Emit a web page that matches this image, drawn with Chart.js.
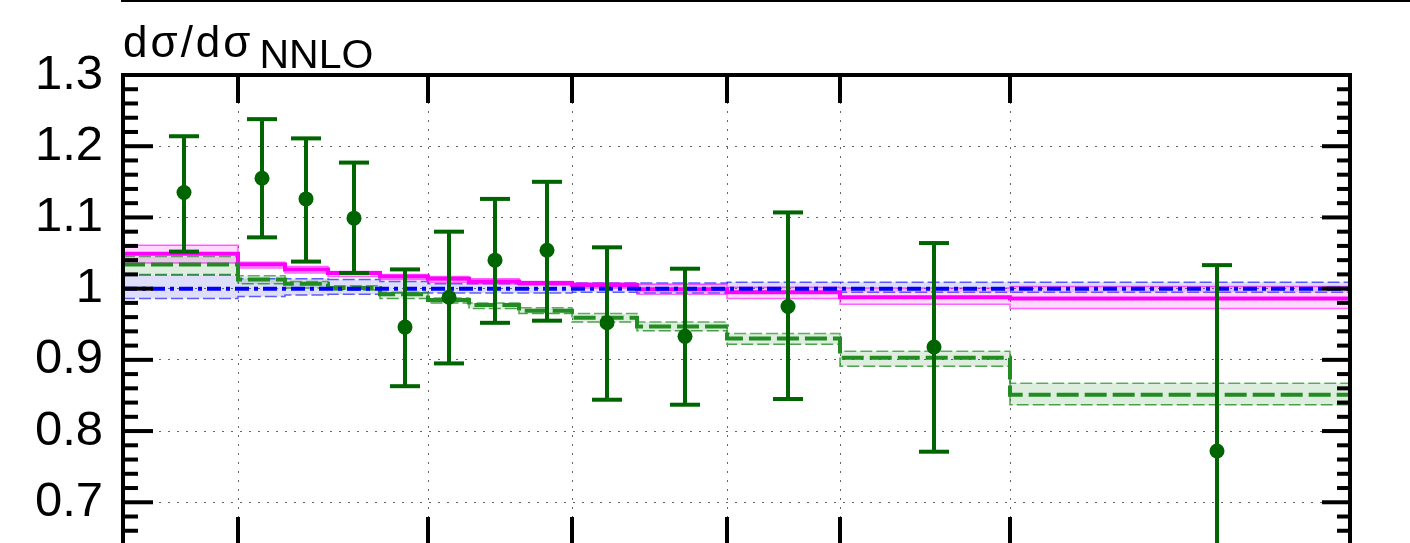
<!DOCTYPE html>
<html><head><meta charset="utf-8">
<script src="https://cdn.jsdelivr.net/npm/chart.js@4.4.1/dist/chart.umd.min.js"></script>
<style>html,body{margin:0;padding:0;background:#fff;overflow:hidden}#wrap{width:1410px;height:543px;overflow:hidden;position:relative}</style>
</head><body><div id="wrap"><canvas id="c" width="1410" height="560"></canvas></div>
<script>
// ---- data (x in arbitrary axis units; axis labels are outside the visible area) ----
const binEdges = [0, 11.5, 16.2, 20.5, 25.7, 30.5, 34.6, 39.6, 44.9, 51.4, 60.4, 71.7, 88.7, 122.7];
const xMajorTicks = [11.5, 30.5, 44.9, 60.4, 71.7, 88.7];
const yTickLabels = [0.7, 0.8, 0.9, 1.0, 1.1, 1.2, 1.3];

const magLine = [1.049, 1.034, 1.027, 1.022, 1.017, 1.014, 1.010, 1.008, 1.005, 0.999, 0.995, 0.988, 0.986];
const magUp   = [1.061, 1.037, 1.031, 1.024, 1.020, 1.017, 1.014, 1.010, 1.008, 1.006, 1.002, 1.001, 1.003];
const magLo   = [1.036, 1.029, 1.022, 1.017, 1.013, 1.009, 1.007, 1.005, 1.001, 0.992, 0.986, 0.978, 0.972];

const greenLine = [1.034, 1.013, 1.007, 1.001, 0.992, 0.984, 0.977, 0.969, 0.959, 0.947, 0.930, 0.903, 0.851];
const greenUp   = [1.045, 1.018, 1.010, 1.004, 0.995, 0.987, 0.980, 0.973, 0.965, 0.953, 0.937, 0.912, 0.867];
const greenLo   = [1.020, 1.007, 1.001, 0.998, 0.986, 0.980, 0.972, 0.965, 0.953, 0.941, 0.922, 0.891, 0.837];

const blueLine = [1, 1, 1, 1, 1, 1, 1, 1, 1, 1, 1, 1, 1];
const blueUp   = [1.019, 1.014, 1.014, 1.013, 1.010, 1.007, 1.007, 1.006, 1.008, 1.008, 1.009, 1.009, 1.009];
const blueLo   = [0.986, 0.989, 0.991, 0.992, 0.994, 0.994, 0.994, 0.994, 0.995, 0.994, 0.995, 0.995, 0.995];

const dataX  = [6.1, 13.9, 18.3, 23.1, 28.2, 32.6, 37.2, 42.4, 48.4, 56.2, 66.5, 81.1, 109.4];
const dataY  = [1.135, 1.155, 1.126, 1.099, 0.946, 0.988, 1.040, 1.054, 0.952, 0.933, 0.975, 0.918, 0.772];
const dataHi = [1.214, 1.238, 1.211, 1.177, 1.027, 1.080, 1.126, 1.150, 1.058, 1.028, 1.107, 1.064, 1.033];
const dataLo = [1.052, 1.072, 1.038, 1.022, 0.863, 0.895, 0.952, 0.955, 0.844, 0.837, 0.845, 0.771, 0.511];

// ---- helpers ----
function steps(vals) {
  const pts = [];
  vals.forEach((v, i) => { pts.push({x: binEdges[i], y: v}); pts.push({x: binEdges[i + 1], y: v}); });
  return pts;
}
const FONT = '"Liberation Sans", Arial, Helvetica, sans-serif';
const DATA_COLOR = '#006400';

const lineBase = {type: 'line', pointRadius: 0, tension: 0, fill: false};

const datasets = [
  Object.assign({}, lineBase, {data: steps(blueUp), borderColor: 'rgba(40,40,255,0.75)', borderWidth: 1.5, borderDash: [12, 4], backgroundColor: 'rgba(70,70,230,0.18)', fill: '+1', order: 10}),
  Object.assign({}, lineBase, {data: steps(blueLo), borderColor: 'rgba(40,40,255,0.75)', borderWidth: 1.5, borderDash: [12, 4], order: 10}),
  Object.assign({}, lineBase, {data: steps(greenUp), borderColor: 'rgba(34,139,34,0.7)', borderWidth: 1.5, borderDash: [12, 4], backgroundColor: 'rgba(34,139,34,0.15)', fill: '+1', order: 9}),
  Object.assign({}, lineBase, {data: steps(greenLo), borderColor: 'rgba(34,139,34,0.8)', borderWidth: 1.5, borderDash: [12, 4], order: 9}),
  Object.assign({}, lineBase, {data: steps(magUp), borderColor: 'rgba(255,0,255,0.6)', borderWidth: 1.5, backgroundColor: 'rgba(255,0,255,0.15)', fill: '+1', order: 8}),
  Object.assign({}, lineBase, {data: steps(magLo), borderColor: 'rgba(255,0,255,0.6)', borderWidth: 1.5, order: 8}),
  Object.assign({}, lineBase, {data: steps(magLine), borderColor: '#ff00ff', borderWidth: 4, order: 3}),
  Object.assign({}, lineBase, {data: steps(greenLine), borderColor: '#228b22', borderWidth: 4, borderDash: [22, 6], order: 2}),
  Object.assign({}, lineBase, {data: steps(blueLine), borderColor: '#0000ff', borderWidth: 4, borderDash: [14, 5, 4, 5], order: 1}),
  {type: 'line', showLine: false, data: dataX.map((x, i) => ({x: x, y: dataY[i]})), pointRadius: 7.5, pointBackgroundColor: DATA_COLOR, pointBorderWidth: 0, order: 0}
];

const rootFrame = {
  id: 'rootFrame',
  afterDatasetsDraw(chart) {
    const {ctx, scales: {x, y}} = chart;
    ctx.save();
    ctx.fillStyle = DATA_COLOR;
    dataX.forEach((xv, i) => {
      const px = x.getPixelForValue(xv);
      const ph = y.getPixelForValue(dataHi[i]);
      const pl = y.getPixelForValue(dataLo[i]);
      ctx.fillRect(px - 2, ph, 4, pl - ph);
      ctx.fillRect(px - 15, ph - 2, 30, 4);
      ctx.fillRect(px - 15, pl - 2, 30, 4);
    });
    ctx.restore();
  },
  afterDraw(chart) {
    const {ctx, chartArea: a, scales: {x, y}} = chart;
    ctx.save();
    ctx.fillStyle = '#000';
    // frame
    ctx.fillRect(a.left - 2, a.top - 2, a.right - a.left + 4, 4);
    ctx.fillRect(a.left - 2, a.top - 2, 4, a.bottom - a.top + 4);
    ctx.fillRect(a.right - 2, a.top - 2, 4, a.bottom - a.top + 4);
    ctx.fillRect(a.left - 2, a.bottom - 2, a.right - a.left + 4, 4);
    // y ticks
    const k0 = Math.ceil(y.min / 0.02 - 1e-6), k1 = Math.floor(y.max / 0.02 + 1e-6);
    for (let k = k0; k <= k1; k++) {
      const py = y.getPixelForValue(k * 0.02);
      const major = k % 5 === 0;
      ctx.fillRect(a.left, py - 2, major ? 30 : 15, 4);
      ctx.fillRect(a.right - (major ? 28 : 13), py - 2, major ? 28 : 13, 4);
    }
    // x ticks
    xMajorTicks.forEach(v => {
      const px = x.getPixelForValue(v);
      ctx.fillRect(px - 2, a.top, 4, 28);
      ctx.fillRect(px - 2, a.bottom - 28, 4, 28);
    });
    // upper pad frame line
    ctx.fillRect(a.left - 2, 0, 1410 - a.left + 2, 2);
    // y title
    ctx.font = '44px ' + FONT;
    ctx.textBaseline = 'alphabetic';
    ctx.textAlign = 'left';
    ctx.letterSpacing = '3px';
    const t = 'dσ/dσ';
    ctx.fillText(t, 123, 57);
    const w = ctx.measureText(t).width;
    ctx.letterSpacing = '0px';
    ctx.font = '41px ' + FONT;
    ctx.fillText('NNLO', 123 + w + 6, 68);
    ctx.restore();
  }
};

new Chart(document.getElementById('c'), {
  type: 'line',
  data: {datasets},
  options: {
    responsive: false,
    devicePixelRatio: 1,
    animation: false,
    events: [],
    layout: {padding: {left: 0, top: 75, right: 60, bottom: 15}},
    plugins: {legend: {display: false}, tooltip: {enabled: false}, title: {display: false}},
    scales: {
      x: {
        type: 'linear', min: binEdges[0], max: binEdges[binEdges.length - 1],
        afterBuildTicks(s) { s.ticks = xMajorTicks.map(v => ({value: v})); },
        afterFit(s) { s.height = 0; s.paddingLeft = 0; s.paddingRight = 0; },
        ticks: {display: false},
        grid: {drawTicks: false, color: 'rgba(0,0,0,0.6)', lineWidth: 1},
        border: {display: false, dash: [2, 7]}
      },
      y: {
        type: 'linear', min: 0.64, max: 1.3,
        afterBuildTicks(s) { s.ticks = yTickLabels.map(v => ({value: v})); },
        afterFit(s) { s.width = 123; s.paddingTop = 0; s.paddingBottom = 0; },
        ticks: {
          padding: 20, color: '#000', font: {family: FONT, size: 49},
          callback: v => String(Number(v.toFixed(1)))
        },
        grid: {drawTicks: false, color: 'rgba(0,0,0,0.6)', lineWidth: 1},
        border: {display: false, dash: [2, 7]}
      }
    }
  },
  plugins: [rootFrame]
});
</script>
</body></html>
